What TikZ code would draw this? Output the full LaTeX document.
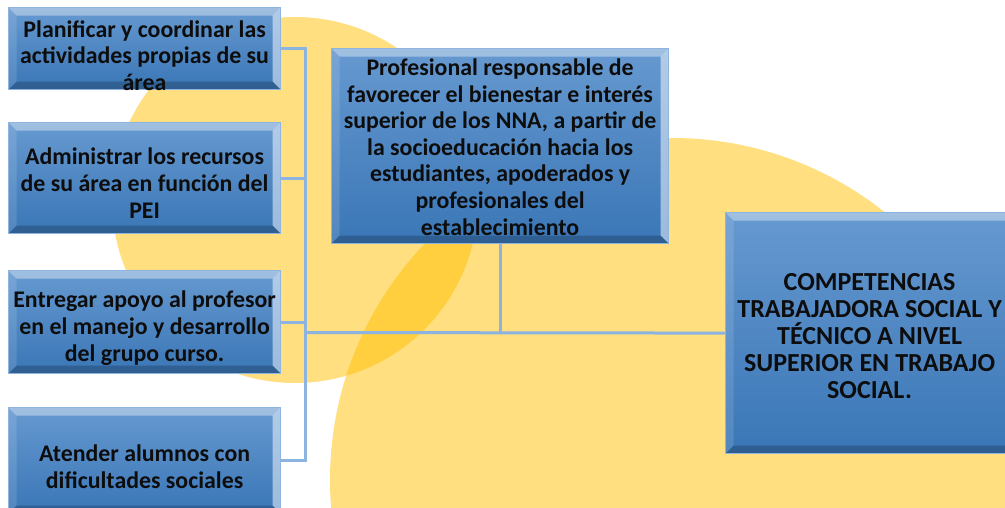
\documentclass[tikz,border=0pt]{standalone}
\usepackage{fontspec}
\setmainfont{Carlito}
\definecolor{circ}{HTML}{FFC000}
\definecolor{boxtop}{HTML}{6699D0}
\definecolor{boxbot}{HTML}{3A76B6}
\definecolor{boxedge}{HTML}{8EB4E0}
\definecolor{connc}{HTML}{8DB3E0}
\definecolor{txt}{HTML}{0D0D0D}
\tikzset{
  bevbox/.style={draw=boxedge, line width=1.2pt, top color=boxtop, bottom color=boxbot,
    inner sep=0pt, anchor=north west,
    path picture={
      \path (path picture bounding box.north west) coordinate (pnw)
            (path picture bounding box.north east) coordinate (pne)
            (path picture bounding box.south west) coordinate (psw)
            (path picture bounding box.south east) coordinate (pse);
      \fill[white, opacity=0.38] (pnw) -- (pne) -- ([shift={(-8pt,-8pt)}]pne) -- ([shift={(8pt,-8pt)}]pnw) -- cycle;
      \fill[white, opacity=0.12] (pnw) -- ([shift={(8pt,-8pt)}]pnw) -- ([shift={(8pt,8pt)}]psw) -- (psw) -- cycle;
      \fill[white, opacity=0.5] (pne) -- (pse) -- ([shift={(-8pt,8pt)}]pse) -- ([shift={(-8pt,-8pt)}]pne) -- cycle;
      \fill[black, opacity=0.2] (psw) -- (pse) -- ([shift={(-8pt,8pt)}]pse) -- ([shift={(8pt,8pt)}]psw) -- cycle;
    }},
  boxtext/.style={inner sep=0pt, align=center, text=txt,
    font=\bfseries\fontsize{23.85pt}{26.6pt}\selectfont},
  bigtext/.style={boxtext, font=\bfseries\fontsize{26pt}{27pt}\selectfont},
  connline/.style={draw=connc, line width=3pt},
  blob/.style={fill=circ, opacity=0.5}
}
\begin{document}
\begin{tikzpicture}[x=1pt,y=-1pt]
\useasboundingbox (0,0) rectangle (1005,508);
\clip (0,0) rectangle (1005,508);
\fill[white] (0,0) rectangle (1005,508);
\fill[blob] (295,200) circle (183pt);
\fill[blob] (672,480) circle (342pt);

\node[bevbox, minimum width=272pt, minimum height=82pt] (b1) at (8,7) {};
\node[boxtext] (t1) at ([yshift=-7pt]b1.center)
  {Planificar y coordinar las\\actividades propias de su\\área};
\node[bevbox, minimum width=272pt, minimum height=111pt] (b2) at (8,122) {};
\node[boxtext] (t2) at ([yshift=-5pt]b2.center)
  {Administrar los recursos\\de su área en función del\\PEI};
\node[bevbox, minimum width=272pt, minimum height=103pt] (b3) at (8,270) {};
\node[boxtext] (t3) at ([yshift=-6pt]b3.center)
  {Entregar apoyo al profesor\\en el manejo y desarrollo\\del grupo curso.};
\node[bevbox, minimum width=272pt, minimum height=106pt] (b4) at (8,407) {};
\node[boxtext] (t4) at ([yshift=-6pt]b4.center)
  {Atender alumnos con\\dificultades sociales};
\node[bevbox, minimum width=337pt, minimum height=195pt] (C) at (331,48) {};
\node[boxtext] (tc) at ([yshift=-1pt]C.center)
  {Profesional responsable de\\favorecer el bienestar e interés\\superior de los NNA, a partir de\\la socioeducación hacia los\\estudiantes, apoderados y\\profesionales del\\establecimiento};
\node[bevbox, minimum width=290pt, minimum height=241pt] (R) at (725,212) {};
\node[bigtext] (tr) at ([xshift=-1pt,yshift=-3pt]R.center)
  {COMPETENCIAS\\TRABAJADORA SOCIAL Y\\TÉCNICO A NIVEL\\SUPERIOR EN TRABAJO\\SOCIAL.};

\coordinate (J) at (305,332.5);
\draw[connline] (b1.east) -| (J);
\draw[connline] (b2.east) -| (J);
\draw[connline] (b3.east) -| (J);
\draw[connline] (b4.east) -| (J);
\draw[connline] (J) -- (R.west);
\draw[connline] (C.south) -- (C.south |- R.west);
\end{tikzpicture}
\end{document}
